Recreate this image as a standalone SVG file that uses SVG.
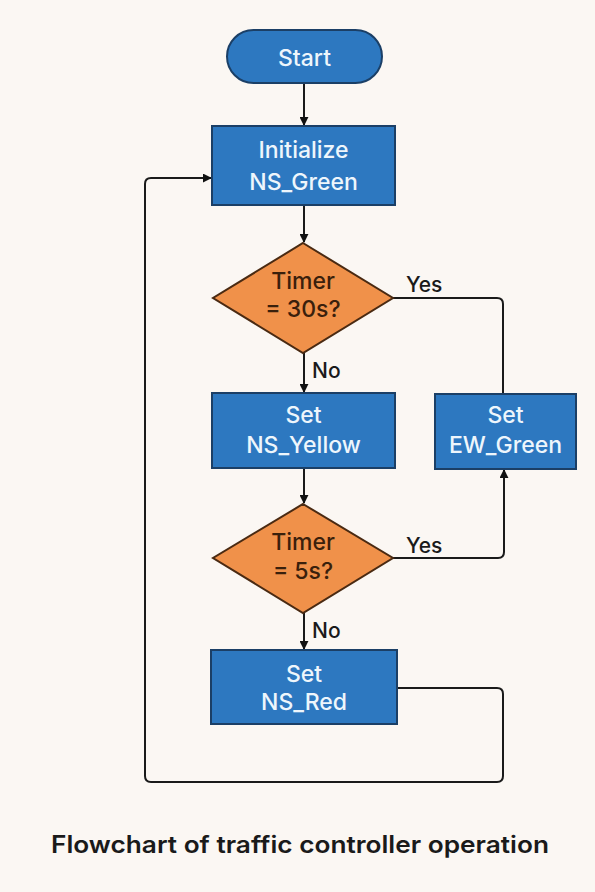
<svg xmlns="http://www.w3.org/2000/svg" width="595" height="892" viewBox="0 0 595 892">
<defs>
<marker id="ah" viewBox="0 0 10 10" refX="9" refY="5" markerWidth="9" markerHeight="9" markerUnits="userSpaceOnUse" orient="auto">
<path d="M0,0 L10,5 L0,10 z" fill="#111"/>
</marker>
<style>
.box{fill:#2d78c0;stroke:#1b3f66;stroke-width:2}
.dia{fill:#f0914a;stroke:#4a2a12;stroke-width:2}
.bt{font-family:Inter,"Liberation Sans",Arial,sans-serif;font-size:23px;font-weight:500;fill:#eef6fc;text-anchor:middle}
.dt{font-family:Inter,"Liberation Sans",Arial,sans-serif;font-size:23px;font-weight:500;fill:#3a200c;text-anchor:middle}
.lb{font-family:Inter,"Liberation Sans",Arial,sans-serif;font-size:21px;font-weight:500;fill:#1a1a1a}
.ln{fill:none;stroke:#1a1a1a;stroke-width:2}
</style>
</defs>
<rect width="595" height="892" fill="#fbf7f3"/>
<g id="connectors">
<line class="ln" x1="304" y1="83" x2="304" y2="125" marker-end="url(#ah)"/>
<line class="ln" x1="304" y1="205" x2="304" y2="242" marker-end="url(#ah)"/>
<line class="ln" x1="304" y1="353" x2="304" y2="392" marker-end="url(#ah)"/>
<path class="ln" d="M393,298 H497 Q503,298 503,304 V393"/>
<line class="ln" x1="304" y1="468" x2="304" y2="503" marker-end="url(#ah)"/>
<path class="ln" d="M393,558 H498 Q504,558 504,552 V470" marker-end="url(#ah)"/>
<line class="ln" x1="304" y1="613" x2="304" y2="649" marker-end="url(#ah)"/>
<path class="ln" d="M397,688 H497 Q503,688 503,694 V776 Q503,782 497,782 H151 Q145,782 145,776 V184 Q145,178 151,178 H211" marker-end="url(#ah)"/>
<text class="lb" x="406" y="292">Yes</text>
<text class="lb" x="312" y="378">No</text>
<text class="lb" x="406" y="553">Yes</text>
<text class="lb" x="312" y="638">No</text>
</g>
<g id="start">
<rect class="box" x="227" y="30" width="155" height="53" rx="26.5"/>
<text class="bt" x="304.5" y="66">Start</text>
</g>
<g id="init">
<rect class="box" x="212" y="126" width="183" height="79"/>
<text class="bt" x="303.5" y="158">Initialize</text>
<text class="bt" x="303.5" y="190">NS_Green</text>
</g>
<g id="timer30">
<polygon class="dia" points="303,243 393,298 303,353 213,298"/>
<text class="dt" x="303" y="289">Timer</text>
<text class="dt" x="303" y="317">= 30s?</text>
</g>
<g id="yellow">
<rect class="box" x="212" y="393" width="183" height="75"/>
<text class="bt" x="303.5" y="423">Set</text>
<text class="bt" x="303.5" y="453">NS_Yellow</text>
</g>
<g id="ewgreen">
<rect class="box" x="435" y="394" width="141" height="75"/>
<text class="bt" x="505.5" y="423">Set</text>
<text class="bt" x="505.5" y="453">EW_Green</text>
</g>
<g id="timer5">
<polygon class="dia" points="303,504 393,558 303,613 213,558"/>
<text class="dt" x="303" y="550">Timer</text>
<text class="dt" x="303" y="579">= 5s?</text>
</g>
<g id="red">
<rect class="box" x="211" y="650" width="186" height="74"/>
<text class="bt" x="304" y="682">Set</text>
<text class="bt" x="304" y="710">NS_Red</text>
</g>
<text x="300" y="853" font-family="Inter,'Liberation Sans',Arial,sans-serif" font-size="24" font-weight="600" fill="#1a1a1a" text-anchor="middle" textLength="498" lengthAdjust="spacingAndGlyphs">Flowchart of traffic controller operation</text>
</svg>
